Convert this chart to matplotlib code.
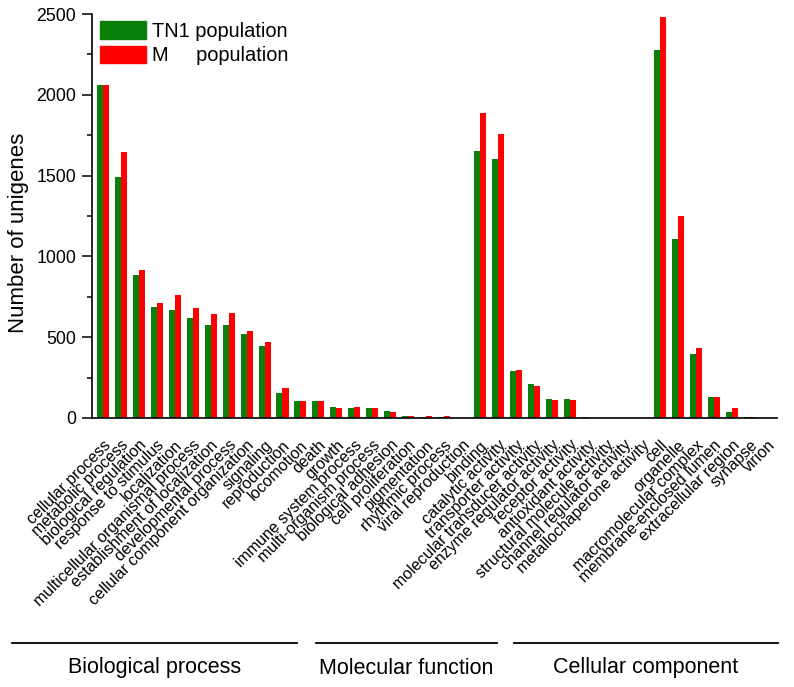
import matplotlib
matplotlib.use('Agg')
import matplotlib.pyplot as plt
import numpy as np
from matplotlib.lines import Line2D
from matplotlib.patches import Patch

plt.rcParams['font.family'] = ['Liberation Sans', 'DejaVu Sans']

# ─── data ───────────────────────────────────────────────────────────────────
categories = [
    # biological process
    'cellular process', 'metabolic process', 'biological regulation',
    'response to stimulus', 'localization', 'multicellular organismal process',
    'establishment of localization', 'developmental process',
    'cellular component organization', 'signaling', 'reproduction',
    'locomotion', 'death', 'growth', 'immune system process',
    'multi-organism process', 'biological adhesion', 'cell proliferation',
    'pigmentation', 'rhythmic process', 'viral reproduction',
    # molecular function
    'binding', 'catalytic activity', 'transporter activity',
    'molecular transducer activity', 'enzyme regulator activity',
    'receptor activity', 'antioxidant activity', 'structural molecule activity',
    'channel regulator activity', 'metallochaperone activity',
    # cellular component
    'cell', 'organelle', 'macromolecular complex', 'membrane-enclosed lumen',
    'extracellular region', 'synapse', 'virion',
]

tn1_values = [
    2058, 1490, 887, 685, 666, 620, 573, 573, 517, 443, 152,
    106, 106, 65, 59, 59, 42, 13, 9, 4, 2,
    1655, 1602, 292, 209, 116, 116, 3, 1, 1, 1,
    2279, 1108, 397, 131, 36, 7, 1,
]
m_values = [
    2058, 1645, 918, 713, 759, 682, 641, 649, 538, 471, 185,
    106, 106, 63, 67, 63, 40, 13, 15, 10, 2,
    1888, 1758, 296, 197, 114, 110, 2, 1, 0, 1,
    2481, 1250, 434, 131, 63, 7, 1,
]

groups = ['Biological process', 'Molecular function', 'Cellular component']

GREEN = '#0A800A'
RED = '#FF0000'

# ─── chart ──────────────────────────────────────────────────────────────────
fig = plt.figure(figsize=(7.94, 6.87), dpi=100)
ax = fig.add_axes([0.1159, 0.3916, 0.8627, 0.5880])

x = np.arange(len(categories))
w = 0.335
ax.bar(x - w / 2, tn1_values, width=w, color=GREEN, linewidth=0)
ax.bar(x + w / 2, m_values, width=w, color=RED, linewidth=0)

ax.set_xlim(-0.6, len(categories) - 0.48)
ax.set_ylim(0, 2500)
ax.set_yticks([0, 500, 1000, 1500, 2000, 2500])
ax.set_yticks(np.arange(250, 2500, 500), minor=True)
ax.tick_params(axis='y', which='major', length=7.5, width=1.1, labelsize=12.8,
               pad=4, direction='out')
ax.tick_params(axis='y', which='minor', length=3.5, width=1.1, direction='out')

ax.set_xticks(x)
ax.set_xticklabels(categories, rotation=45, ha='right', va='top',
                   rotation_mode='anchor', fontsize=11.5)
ax.tick_params(axis='x', length=0, pad=14)

for side in ('top', 'right'):
    ax.spines[side].set_visible(False)
for side in ('left', 'bottom'):
    ax.spines[side].set_linewidth(1.2)

ax.set_ylabel('Number of unigenes', fontsize=16)
ax.yaxis.set_label_coords(-0.092, 0.458)

handles = [Patch(color=GREEN), Patch(color=RED)]
ax.legend(handles, ['TN1 population', 'M     population'],
          loc='upper left', bbox_to_anchor=(-0.006, 1.013), frameon=False,
          fontsize=14.4, handlelength=2.3, handleheight=1.0,
          handletextpad=0.3, labelspacing=0.25, borderaxespad=0.2)

# group brackets below the labels
spans = [(12, 297), (316, 497), (514, 778)]
W, H = 794, 687
line_y = 1 - 643 / H
for (x0, x1), name in zip(spans, groups):
    fig.add_artist(Line2D([x0 / W, x1 / W], [line_y, line_y],
                          color='black', linewidth=1.3, transform=fig.transFigure))
    fig.text((x0 + x1) / 2 / W, 1 - 668 / H, name, ha='center', va='center',
             fontsize=15.5)

fig.savefig('out.png', dpi=100)
plt.close(fig)
